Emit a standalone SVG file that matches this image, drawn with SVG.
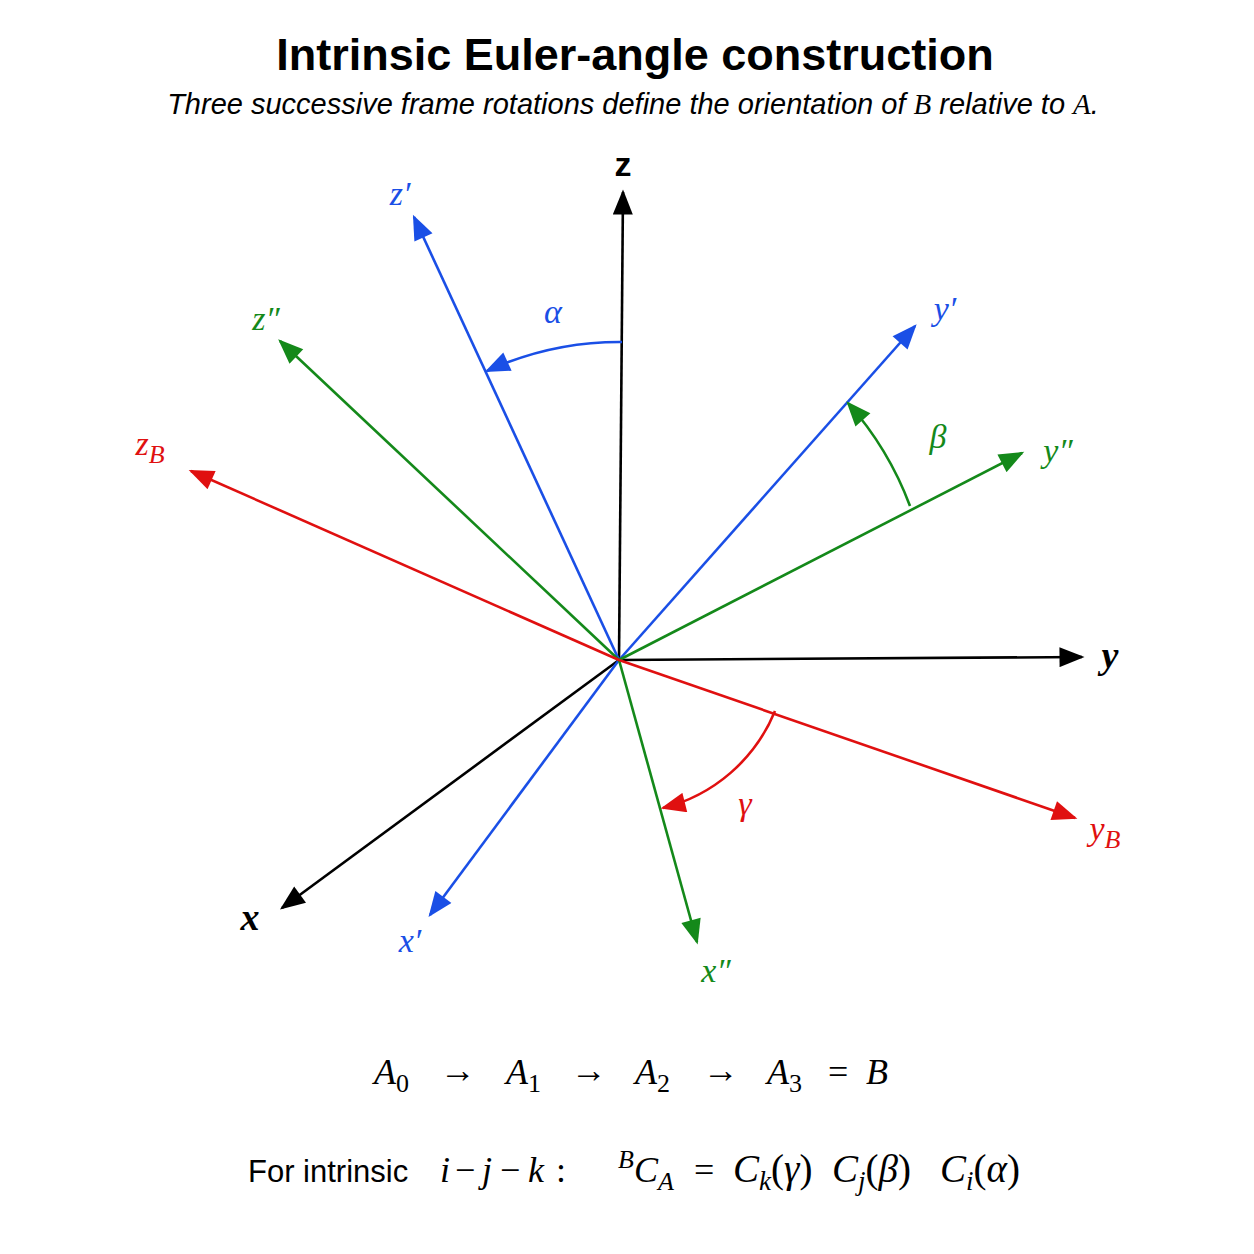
<svg xmlns="http://www.w3.org/2000/svg" width="1254" height="1254" viewBox="0 0 1254 1254">
<style>
.k{stroke:#000}.b{stroke:#1a4fe6}.g{stroke:#14891a}.r{stroke:#e01010}
.ax{stroke-width:2.6;fill:none}
.lab{font-family:"Liberation Serif",serif;font-style:italic;font-size:34px}
.m{font-family:"Liberation Serif",serif;font-size:36px}
</style>
<defs>
<marker id="ab" viewBox="0 0 10 8" markerWidth="26" markerHeight="20" refX="9" refY="4" orient="auto" markerUnits="userSpaceOnUse"><path d="M0,0L10,4L0,8z" style="fill:#1a4fe6;stroke:none"/></marker>
<marker id="ag" viewBox="0 0 10 8" markerWidth="26" markerHeight="20" refX="9" refY="4" orient="auto" markerUnits="userSpaceOnUse"><path d="M0,0L10,4L0,8z" style="fill:#14891a;stroke:none"/></marker>
<marker id="ar" viewBox="0 0 10 8" markerWidth="26" markerHeight="20" refX="9" refY="4" orient="auto" markerUnits="userSpaceOnUse"><path d="M0,0L10,4L0,8z" style="fill:#e01010;stroke:none"/></marker>
<marker id="ak2" viewBox="0 0 10 8" markerWidth="26" markerHeight="20" refX="9" refY="4" orient="auto" markerUnits="userSpaceOnUse"><path d="M0,0L10,4L0,8z" style="fill:#000;stroke:none"/></marker>
</defs>
<rect width="1254" height="1254" fill="#fff"/>
<text x="635" y="70" text-anchor="middle" font-family="Liberation Sans,Arial,sans-serif" font-weight="bold" font-size="45">Intrinsic Euler-angle construction</text>
<text x="633" y="114" text-anchor="middle" font-family="Liberation Sans,Arial,sans-serif" font-style="italic" font-size="29">Three successive frame rotations define the orientation of <tspan font-family="Liberation Serif,serif">B</tspan> relative to <tspan font-family="Liberation Serif,serif">A</tspan>.</text>
<g id="connectors">
<line class="ax k" x1="619" y1="660" x2="623" y2="192" marker-end="url(#ak2)"/>
<line class="ax k" x1="619" y1="660" x2="1082" y2="657" marker-end="url(#ak2)"/>
<line class="ax k" x1="619" y1="660" x2="282" y2="908" marker-end="url(#ak2)"/>
<line class="ax b" x1="619" y1="660" x2="414" y2="217" marker-end="url(#ab)"/>
<line class="ax b" x1="619" y1="660" x2="430" y2="915" marker-end="url(#ab)"/>
<line class="ax b" x1="619" y1="660" x2="915" y2="326" marker-end="url(#ab)"/>
<line class="ax g" x1="619" y1="660" x2="280" y2="341" marker-end="url(#ag)"/>
<line class="ax g" x1="619" y1="660" x2="1022" y2="453" marker-end="url(#ag)"/>
<line class="ax g" x1="619" y1="660" x2="697" y2="942" marker-end="url(#ag)"/>
<line class="ax r" x1="619" y1="660" x2="191" y2="471" marker-end="url(#ar)"/>
<line class="ax r" x1="619" y1="660" x2="1075" y2="818" marker-end="url(#ar)"/>
<path class="ax b" d="M622,342 A318,318 0 0 0 487,371" marker-end="url(#ab)"/>
<path class="ax g" d="M910,506 A329,329 0 0 0 848,403" marker-end="url(#ag)"/>
<path class="ax r" d="M775,711 A164,164 0 0 1 663,808" marker-end="url(#ar)"/>
</g>
<g id="labels" class="lab">
<text x="623" y="176" text-anchor="middle" font-family="Liberation Sans,sans-serif" font-weight="bold" font-style="normal" font-size="34">z</text>
<text x="1110" y="668" text-anchor="middle" font-weight="bold" font-size="38">y</text>
<text x="250" y="930" text-anchor="middle" font-weight="bold" font-size="38">x</text>
<text x="400" y="205" text-anchor="middle" fill="#1a4fe6">z′</text>
<text x="945" y="320" text-anchor="middle" fill="#1a4fe6">y′</text>
<text x="410" y="952" text-anchor="middle" fill="#1a4fe6">x′</text>
<text x="266" y="330" text-anchor="middle" fill="#14891a">z″</text>
<text x="1058" y="462" text-anchor="middle" fill="#14891a">y″</text>
<text x="716" y="982" text-anchor="middle" fill="#14891a">x″</text>
<text x="150" y="455" text-anchor="middle" fill="#e01010">z<tspan font-size="26" dy="8">B</tspan></text>
<text x="1105" y="840" text-anchor="middle" fill="#e01010">y<tspan font-size="26" dy="8">B</tspan></text>
<text x="553" y="323" text-anchor="middle" fill="#1a4fe6">α</text>
<text x="938" y="448" text-anchor="middle" fill="#14891a">β</text>
<text x="745" y="815" text-anchor="middle" fill="#e01010">γ</text>
</g>
<g id="formulas" class="m">
<text x="374" y="1084" font-style="italic">A<tspan font-style="normal" font-size="26" dy="8">0</tspan></text>
<text x="440" y="1082">→</text>
<text x="506" y="1084" font-style="italic">A<tspan font-style="normal" font-size="26" dy="8">1</tspan></text>
<text x="571" y="1082">→</text>
<text x="635" y="1084" font-style="italic">A<tspan font-style="normal" font-size="26" dy="8">2</tspan></text>
<text x="703" y="1082">→</text>
<text x="767" y="1084" font-style="italic">A<tspan font-style="normal" font-size="26" dy="8">3</tspan></text>
<text x="828" y="1084">=</text>
<text x="866" y="1084" font-style="italic">B</text>
<text x="248" y="1182" font-family="Liberation Sans,Arial,sans-serif" font-size="31">For intrinsic</text>
<text x="440" y="1182" font-style="italic">i</text><text x="455" y="1182">−</text><text x="482" y="1182" font-style="italic">j</text><text x="500" y="1182">−</text><text x="528" y="1182" font-style="italic">k</text><text x="556" y="1182">:</text>
<text x="618" y="1182"><tspan font-style="italic" font-size="26" dy="-14">B</tspan><tspan font-style="italic" dy="14">C</tspan><tspan font-style="italic" font-size="26" dy="8">A</tspan></text>
<text x="694" y="1182">=</text>
<text x="733" y="1182" font-size="39"><tspan font-style="italic">C</tspan><tspan font-style="italic" font-size="27" dy="8">k</tspan><tspan dy="-8">(</tspan><tspan font-style="italic">γ</tspan>)</text>
<text x="832" y="1182" font-size="39"><tspan font-style="italic">C</tspan><tspan font-style="italic" font-size="27" dy="8">j</tspan><tspan dy="-8">(</tspan><tspan font-style="italic">β</tspan>)</text>
<text x="940" y="1182" font-size="39"><tspan font-style="italic">C</tspan><tspan font-style="italic" font-size="27" dy="8">i</tspan><tspan dy="-8">(</tspan><tspan font-style="italic">α</tspan>)</text>
</g>
</svg>
